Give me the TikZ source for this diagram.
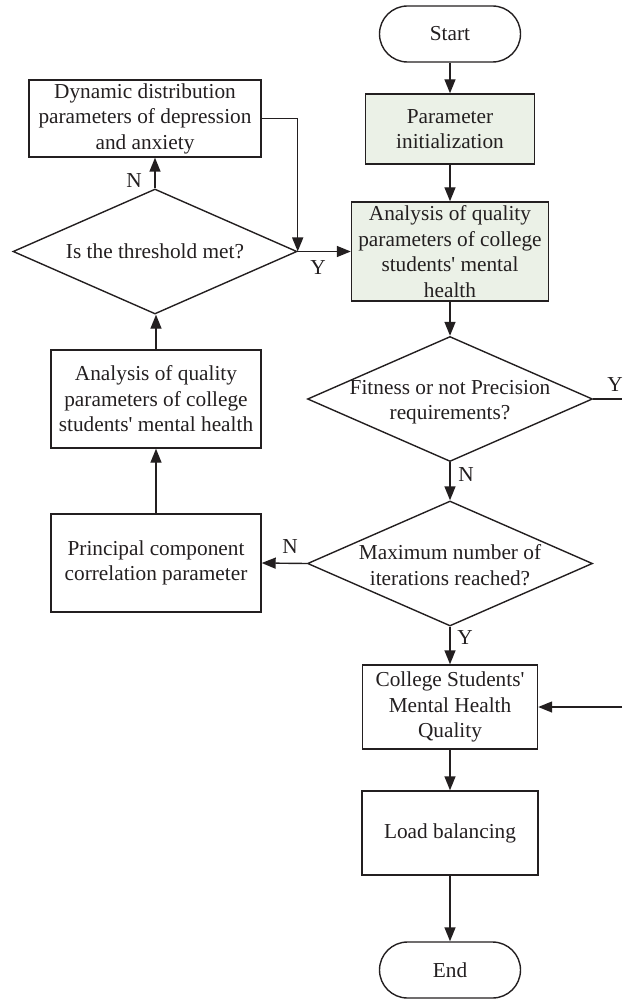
\documentclass[tikz,border=0pt]{standalone}
\usepackage{fontspec}
\setmainfont{Liberation Serif}[Ligatures=TeXOff]
\usetikzlibrary{shapes.geometric,arrows.meta}
\definecolor{boxgreen}{HTML}{EBF1E7}
\definecolor{ink}{HTML}{231F20}
\begin{document}
\begin{tikzpicture}[x=1pt,y=-1pt,
  every node/.style={font=\fontsize{21.3}{25.5}\selectfont, text=ink},
  base/.style={draw=ink, line width=1.4pt, inner sep=0pt, align=center},
  procbox/.style={base, rectangle},
  greenbox/.style={procbox, fill=boxgreen},
  terminal/.style={base, rectangle, rounded corners=28pt, minimum width=141pt, minimum height=56pt},
  decision/.style={base, diamond, minimum width=285pt, minimum height=125pt},
  dtext/.style={align=center, inner sep=0pt},
  conn/.style={draw=ink, line width=1.4pt, -{Triangle[length=14pt,width=11pt]}},
  plainline/.style={draw=ink, line width=1.4pt},
  lab/.style={inner sep=0pt}
]
\useasboundingbox (0,0) rectangle (622,1000);

% right column
\node[terminal] (start) at (450,34) {Start};
\node[greenbox, minimum width=169pt, minimum height=70pt] (init) at (450,129) {Parameter\\initialization};
\node[greenbox, minimum width=197pt, minimum height=99pt] (anaG) at (450,251.5) {Analysis of quality\\parameters of college\\students' mental\\health};
\node[decision] (fit) at (450,399) {};
\node[dtext] (fitT) at (450,402) {Fitness or not Precision\\requirements?};
\node[decision] (max) at (450,563.5) {};
\node[dtext] (maxT) at (450,565) {Maximum number of\\iterations reached?};
\node[procbox, minimum width=175pt, minimum height=84pt] (coll) at (450,707) {College Students'\\Mental Health\\Quality};
\node[procbox, minimum width=176pt, minimum height=84pt] (load) at (450,833) {Load balancing};
\node[terminal] (endN) at (450,970) {End};

% left column
\node[procbox, minimum width=232pt, minimum height=77pt] (dyn) at (145,118.5) {Dynamic distribution\\parameters of depression\\and anxiety};
\node[decision, minimum width=284pt] (thr) at (155,251.5) {};
\node[dtext] (thrT) at (155,251.5) {Is the threshold met?};
\node[procbox, minimum width=210pt, minimum height=98pt] (anaL) at (156,399) {Analysis of quality\\parameters of college\\students' mental health};
\node[procbox, minimum width=210pt, minimum height=98pt] (princ) at (156,563) {Principal component\\correlation parameter};

% free ends
\coordinate (fitOut) at (622,399);
\coordinate (collIn) at (622,707);

% connectors
\draw[conn] (start) -- (init);
\draw[conn] (init) -- (anaG);
\draw[conn] (anaG) -- (fit.north);
\draw[plainline] (fit.east) -- (fitOut);
\draw[conn] (fit.south) -- (max.north);
\draw[conn] (max.south) -- (coll.north);
\draw[conn] (max.west) -- (princ.east);
\draw[conn] (princ) -- (anaL);
\draw[conn] (anaL.north) -- (thr.south -| anaL.north);
\draw[conn] (thr.north) -- (thr.north |- dyn.south);
\draw[conn] (dyn.east) -| (thr.east);
\draw[conn] (thr.east) -- (anaG.west);
\draw[conn] (collIn) -- (coll.east);
\draw[conn] (coll) -- (load);
\draw[conn] (load) -- (endN);

% labels
\node[lab] (lY1) at (615,385) {Y};
\node[lab] (lN1) at (466,475) {N};
\node[lab] (lY2) at (465,638) {Y};
\node[lab] (lN2) at (290,547) {N};
\node[lab] (lN3) at (134,181) {N};
\node[lab] (lY3) at (318,268) {Y};
\end{tikzpicture}
\end{document}
